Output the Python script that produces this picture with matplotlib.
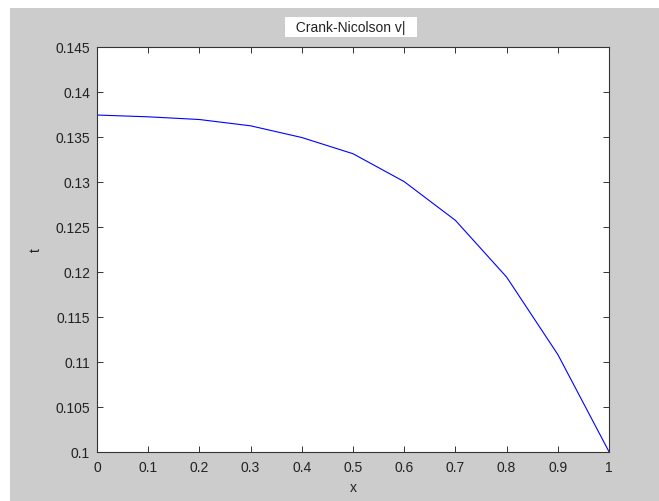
import numpy as np
import matplotlib
matplotlib.use("Agg")
import matplotlib.pyplot as plt
from matplotlib.patches import Rectangle
from matplotlib.ticker import FormatStrFormatter

plt.rcParams['font.family'] = ['Liberation Sans', 'DejaVu Sans']

# values
x = [0.0, 0.1, 0.2, 0.3, 0.4, 0.5, 0.6, 0.7, 0.8, 0.9, 1.0]
t = [0.1374, 0.1372, 0.1369, 0.1362, 0.1349, 0.1331, 0.1300, 0.1257, 0.1194, 0.1108, 0.1000]
xticks = [0, 0.1, 0.2, 0.3, 0.4, 0.5, 0.6, 0.7, 0.8, 0.9, 1]
yticks = [0.1, 0.105, 0.11, 0.115, 0.12, 0.125, 0.13, 0.135, 0.14, 0.145]
title = "Crank-Nicolson v|"

W, H = 659, 502
fig = plt.figure(figsize=(W / 100, H / 100), dpi=100, facecolor='white')
# grey figure area (white strip at top and left, as in the screenshot)
fig.patches.append(Rectangle((10 / W, 0), 1 - 10 / W, 1 - 9 / H,
                             transform=fig.transFigure, facecolor='#cccccc',
                             edgecolor='none', zorder=-10))

ax = fig.add_axes([97 / W, 1 - 452.7 / H, (609 - 97) / W, (452.7 - 47.6) / H])
ax.set_facecolor('white')
ax.plot(x, t, color='#0000ff', lw=0.8)

ax.set_xlim(0, 1)
ax.set_ylim(0.1, 0.145)
ax.set_xticks(xticks)
ax.set_yticks(yticks)
ax.xaxis.set_major_formatter(FormatStrFormatter('%g'))
ax.yaxis.set_major_formatter(FormatStrFormatter('%g'))
ax.tick_params(direction='in', length=4.5, width=0.7, colors='#333333',
               labelcolor='#222222', labelsize=10, top=True, right=True)
ax.tick_params(axis='x', pad=6)
ax.tick_params(axis='y', pad=5)
for s in ax.spines.values():
    s.set_color('#333333')
    s.set_linewidth(0.8)

ax.set_xlabel('x', fontsize=10, color='#222222', labelpad=4)
ax.set_ylabel('t', fontsize=10, color='#222222', labelpad=9)

# title sits in a white box, like an edited text field
fig.text(351 / W, 1 - 28 / H, '  ' + title + '  ', ha='center', va='center',
         fontsize=10, color='#222222',
         bbox=dict(facecolor='white', edgecolor='none', pad=2.5))

fig.savefig('out.png', dpi=100, facecolor=fig.get_facecolor())
